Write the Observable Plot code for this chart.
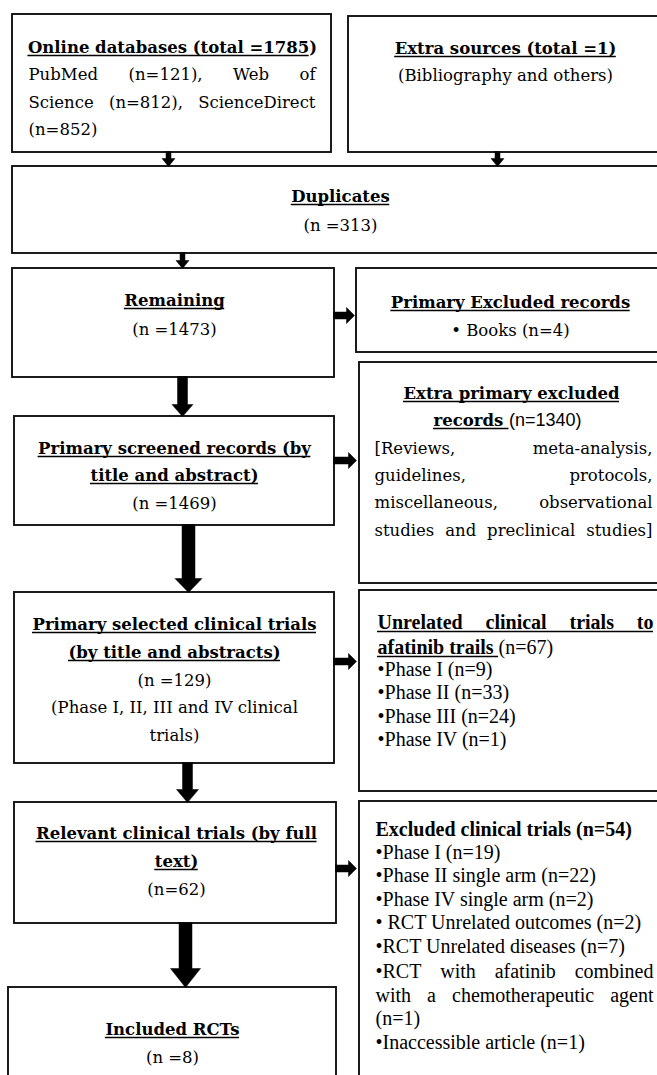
<!DOCTYPE html>
<html><head><meta charset="utf-8">
<script src="https://cdn.jsdelivr.net/npm/d3@7"></script>
<script src="https://cdn.jsdelivr.net/npm/@observablehq/plot@0.6"></script>
<style>
html,body{margin:0;padding:0;background:#fff;overflow:hidden;}
#chart svg{overflow:hidden;display:block;}
</style></head>
<body><div id="chart"></div>
<script>
// ---------------- data ----------------
const sourceNames = ["Online databases", "Extra sources"];
const sourceTotals = [1785, 1];
const databaseNames = ["PubMed", "Web of Science", "ScienceDirect"];
const databaseCounts = [121, 812, 852];
const extraSourceNote = "Bibliography and others";
const stageNames = ["Duplicates", "Remaining", "Primary screened records (by title and abstract)",
  "Primary selected clinical trials (by title and abstracts)", "Relevant clinical trials (by full text)", "Included RCTs"];
const stageCounts = [313, 1473, 1469, 129, 62, 8];
const exclusionNames = ["Primary Excluded records", "Extra primary excluded records",
  "Unrelated clinical trials to afatinib trails", "Excluded clinical trials"];
const exclusionCounts = [4, 1340, 67, 54];
const primaryExcludedItems = ["Books"];
const extraExcludedTypes = "Reviews, meta-analysis, guidelines, protocols, miscellaneous, observational studies and preclinical studies";
const selectedPhasesNote = "Phase I, II, III and IV clinical trials";
const unrelatedPhases = ["Phase I", "Phase II", "Phase III", "Phase IV"];
const unrelatedCounts = [9, 33, 24, 1];
const excludedReasons = ["Phase I", "Phase II single arm", "Phase IV single arm", "RCT Unrelated outcomes",
  "RCT Unrelated diseases", "RCT with afatinib combined with a chemotherapeutic agent", "Inaccessible article"];
const excludedCounts = [19, 22, 2, 2, 7, 1, 1];

// ---------------- layout ----------------
const W = 657, H = 1075;
const boxes = [
  {id: "src0", x1: 12, x2: 331, y1: 14, y2: 152},
  {id: "src1", x1: 348, x2: 664, y1: 16, y2: 152},
  {id: "dup", x1: 12, x2: 664, y1: 166, y2: 253},
  {id: "rem", x1: 12, x2: 334, y1: 268, y2: 377},
  {id: "ex0", x1: 356, x2: 664, y1: 268, y2: 352},
  {id: "ex1", x1: 359, x2: 664, y1: 362, y2: 583},
  {id: "scr", x1: 14, x2: 334, y1: 416, y2: 525},
  {id: "ex2", x1: 359, x2: 664, y1: 590, y2: 791},
  {id: "sel", x1: 14, x2: 334, y1: 592, y2: 763},
  {id: "ex3", x1: 359, x2: 664, y1: 801, y2: 1095},
  {id: "rel", x1: 14, x2: 336, y1: 802, y2: 923},
  {id: "inc", x1: 8, x2: 336, y1: 987, y2: 1095}
];
const arrowSpecs = [
  {dir: "down", x: 168, a: 151, b: 166, s: 5, h: 13, hl: 8},
  {dir: "down", x: 497, a: 151, b: 166, s: 5, h: 13, hl: 8},
  {dir: "down", x: 182, a: 252, b: 268, s: 5, h: 13, hl: 8},
  {dir: "right", y: 315, a: 333, b: 354, s: 7, h: 16, hl: 8},
  {dir: "down", x: 182, a: 376, b: 416, s: 10, h: 21, hl: 12},
  {dir: "right", y: 460, a: 333, b: 356, s: 7, h: 16, hl: 8},
  {dir: "down", x: 188, a: 524, b: 592, s: 13, h: 27, hl: 14},
  {dir: "right", y: 661, a: 333, b: 356, s: 7, h: 16, hl: 8},
  {dir: "down", x: 187, a: 762, b: 802, s: 10, h: 22, hl: 13},
  {dir: "right", y: 868, a: 335, b: 356, s: 7, h: 16, hl: 8},
  {dir: "down", x: 185, a: 922, b: 987, s: 13, h: 30, hl: 19}
];

const FONTS = {
  pal: {family: "DejaVu Serif", size: 16.5},
  tnr: {family: "Liberation Serif", size: 20},
  sans: {family: "Liberation Sans", size: 18}
};
const S = (t, f = "pal", b = false, u = false) => ({t, f, b, u});
function wrap(str, counts) {
  const words = str.split(" ");
  const out = []; let k = 0;
  for (const c of counts) { out.push(words.slice(k, k + c).join(" ")); k += c; }
  return out;
}
const srcTitle = `${sourceNames[0]} (total =${sourceTotals[0]})`;
const dbLines = wrap(databaseNames.map((d, i) => `${d} (n=${databaseCounts[i]})`).join(", "), [4, 3, 1]);
const extraLines = wrap(`[${extraExcludedTypes}]`, [2, 2, 2, 4]);
const scrLines = wrap(stageNames[2], [4, 3]);
const selLines = wrap(stageNames[3], [4, 4]);
const selNote = wrap(`(${selectedPhasesNote})`, [7, 1]);
const relLines = wrap(stageNames[4], [5, 1]);
const ex1Lines = wrap(exclusionNames[1], [3, 1]);
const ex2Lines = wrap(exclusionNames[2], [4, 2]);
const combLines = wrap(`\u2022${excludedReasons[5]} (n=${excludedCounts[5]})`, [4, 4, 1]);

const lines = [
  {align: "center", cx: 172, y: 52, segs: [S(srcTitle.slice(0, -1), "pal", true, true), S(srcTitle.slice(-1), "pal", true)]},
  {align: "justify", x0: 28, x1: 315, y: 79, segs: [S(dbLines[0])]},
  {align: "justify", x0: 28, x1: 315, y: 107, segs: [S(dbLines[1])]},
  {align: "left", x0: 28, y: 134, segs: [S(dbLines[2])]},
  {align: "center", cx: 505, y: 53, segs: [S(`${sourceNames[1]} (total =${sourceTotals[1]})`, "pal", true, true)]},
  {align: "center", cx: 505, y: 80, segs: [S(`(${extraSourceNote})`)]},
  {align: "center", cx: 340, y: 201, segs: [S(stageNames[0], "pal", true, true)]},
  {align: "center", cx: 340, y: 230, segs: [S(`(n =${stageCounts[0]})`)]},
  {align: "center", cx: 174, y: 305, segs: [S(stageNames[1], "pal", true, true)]},
  {align: "center", cx: 174, y: 334, segs: [S(`(n =${stageCounts[1]})`)]},
  {align: "center", cx: 510, y: 307, segs: [S(exclusionNames[0], "pal", true, true)]},
  {align: "center", cx: 510, y: 335, segs: [S(`\u2022 ${primaryExcludedItems[0]} (n=${exclusionCounts[0]})`)]},
  {align: "center", cx: 511, y: 398, segs: [S(ex1Lines[0], "pal", true, true)]},
  {align: "center", cx: 507, y: 425, segs: [S(ex1Lines[1] + "\u00a0", "pal", true, true), S(`(n=${exclusionCounts[1]})`, "sans")]},
  {align: "justify", x0: 374, x1: 652, y: 453, segs: [S(extraLines[0])]},
  {align: "justify", x0: 374, x1: 652, y: 480, segs: [S(extraLines[1])]},
  {align: "justify", x0: 374, x1: 652, y: 507, segs: [S(extraLines[2])]},
  {align: "justify", x0: 374, x1: 652, y: 535, segs: [S(extraLines[3])]},
  {align: "center", cx: 174, y: 453, segs: [S(scrLines[0], "pal", true, true)]},
  {align: "center", cx: 174, y: 480, segs: [S(scrLines[1], "pal", true, true)]},
  {align: "center", cx: 174, y: 508, segs: [S(`(n =${stageCounts[2]})`)]},
  {align: "center", cx: 174, y: 629, segs: [S(selLines[0], "pal", true, true)]},
  {align: "center", cx: 174, y: 657, segs: [S(selLines[1], "pal", true, true)]},
  {align: "center", cx: 174, y: 685, segs: [S(`(n =${stageCounts[3]})`)]},
  {align: "center", cx: 174, y: 712, segs: [S(selNote[0])]},
  {align: "center", cx: 174, y: 740, segs: [S(selNote[1])]},
  {align: "justify", x0: 377, x1: 653, y: 628, segs: [S(ex2Lines[0], "tnr", true, true)]},
  {align: "left", x0: 377, y: 653, segs: [S(ex2Lines[1] + "\u00a0", "tnr", true, true), S(`(n=${exclusionCounts[2]})`, "tnr")]},
  ...unrelatedPhases.map((p, i) => ({align: "left", x0: 377, y: 675 + i * 23.5, segs: [S(`\u2022${p} (n=${unrelatedCounts[i]})`, "tnr")]})),
  {align: "left", x0: 375, y: 835, segs: [S(`${exclusionNames[3]} (n=${exclusionCounts[3]})`, "tnr", true)]},
  ...[0, 1, 2, 3, 4].map(i => ({align: "left", x0: 375, y: 858 + i * 23.5,
    segs: [S(`\u2022${i === 3 ? "\u00a0" : ""}${excludedReasons[i]} (n=${excludedCounts[i]})`, "tnr")]})),
  {align: "justify", x0: 375, x1: 653, y: 977, segs: [S(combLines[0], "tnr")]},
  {align: "justify", x0: 375, x1: 653, y: 1001, segs: [S(combLines[1], "tnr")]},
  {align: "left", x0: 375, y: 1024, segs: [S(combLines[2], "tnr")]},
  {align: "left", x0: 375, y: 1048, segs: [S(`\u2022${excludedReasons[6]} (n=${excludedCounts[6]})`, "tnr")]},
  {align: "center", cx: 176, y: 838, segs: [S(relLines[0], "pal", true, true)]},
  {align: "center", cx: 176, y: 866, segs: [S(relLines[1], "pal", true, true)]},
  {align: "center", cx: 176, y: 894, segs: [S(`(n=${stageCounts[4]})`)]},
  {align: "center", cx: 172, y: 1034, segs: [S(stageNames[5], "pal", true, true)]},
  {align: "center", cx: 172, y: 1062, segs: [S(`(n =${stageCounts[5]})`)]}
];

// ---------------- text placement (measured) ----------------
const ctx = document.createElement("canvas").getContext("2d");
const key = s => `${s.f}-${s.b ? "b" : "n"}`;
const fontStr = s => `${s.b ? "bold " : ""}${FONTS[s.f].size}px "${FONTS[s.f].family}"`;
const measure = (s, t) => { ctx.font = fontStr(s); return ctx.measureText(t).width; };
const textData = [], ulData = [];
function put(t, s, x, y, w) {
  textData.push({x, y, text: t, key: key(s)});
  if (s.u) ulData.push({x1: x, x2: x + w, y: y + 3});
}
for (const L of lines) {
  if (L.align === "justify") {
    const s = L.segs[0];
    const words = s.t.split(" ").filter(Boolean);
    const ws = words.map(w => measure(s, w));
    const gap = (L.x1 - L.x0 - d3.sum(ws)) / (words.length - 1);
    let x = L.x0;
    words.forEach((w, i) => { textData.push({x, y: L.y, text: w, key: key(s)}); x += ws[i] + gap; });
    if (s.u) ulData.push({x1: L.x0, x2: L.x1, y: L.y + 3});
  } else {
    const ws = L.segs.map(s => measure(s, s.t));
    let x = L.align === "center" ? L.cx - d3.sum(ws) / 2 : L.x0;
    L.segs.forEach((s, i) => { put(s.t, s, x, L.y, ws[i]); x += ws[i]; });
  }
}

// ---------------- arrows ----------------
const arrowPts = [];
arrowSpecs.forEach((A, id) => {
  let p;
  if (A.dir === "down") {
    const {x, a, b, s, h, hl} = A;
    p = [[x - s / 2, a], [x + s / 2, a], [x + s / 2, b - hl], [x + h / 2, b - hl], [x, b], [x - h / 2, b - hl], [x - s / 2, b - hl]];
  } else {
    const {y, a, b, s, h, hl} = A;
    p = [[a, y - s / 2], [b - hl, y - s / 2], [b - hl, y - h / 2], [b, y], [b - hl, y + h / 2], [b - hl, y + s / 2], [a, y + s / 2]];
  }
  p.push(p[0]);
  p.forEach(([px, py]) => arrowPts.push({id, x: px, y: py}));
});

const textMarks = Object.entries({
  "pal-n": FONTS.pal, "pal-b": FONTS.pal, "tnr-n": FONTS.tnr, "tnr-b": FONTS.tnr, "sans-n": FONTS.sans
}).map(([k, F]) => Plot.text(textData.filter(d => d.key === k), {
  x: "x", y: "y", text: "text", textAnchor: "start", lineAnchor: "bottom",
  fontFamily: F.family, fontSize: F.size, fontWeight: k.endsWith("b") ? "bold" : "normal", fill: "#000"
}));

const chart = Plot.plot({
  width: W, height: H, margin: 0,
  x: {domain: [0, W], range: [0, W], axis: null},
  y: {domain: [0, H], range: [0, H], axis: null},
  style: {background: "white", overflow: "hidden"},
  marks: [
    Plot.rect(boxes, {x1: "x1", x2: "x2", y1: "y1", y2: "y2", fill: "white", stroke: "#111", strokeWidth: 1.9}),
    Plot.line(arrowPts, {x: "x", y: "y", z: "id", fill: "#000", stroke: "#000", strokeWidth: 0.5}),
    ...textMarks,
    Plot.ruleY(ulData, {y: "y", x1: "x1", x2: "x2", stroke: "#000", strokeWidth: 1.3})
  ]
});
document.getElementById("chart").appendChild(chart);
</script>
</body></html>
